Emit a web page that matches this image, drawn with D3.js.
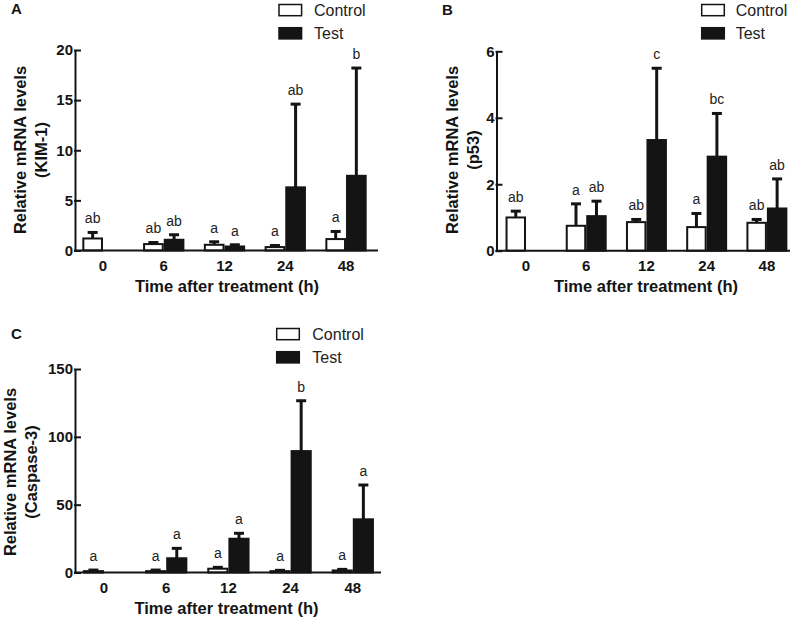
<!DOCTYPE html>
<html><head><meta charset="utf-8">
<script src="https://cdn.jsdelivr.net/npm/d3@7"></script>
<style>
body{margin:0;background:#fff;}
svg{display:block;font-family:"Liberation Sans",Arial,Helvetica,sans-serif;}
</style></head>
<body>
<svg id="chart" width="800" height="619"></svg>
<script>
// ---- data ----
const categories = ["0", "6", "12", "24", "48"];
const seriesNames = ["Control", "Test"];

// Panel A: KIM-1
const kimControl = [1.2, 0.64, 0.57, 0.34, 1.14];
const kimControlErr = [0.6, 0.16, 0.3, 0.16, 0.76];
const kimTest = [null, 1.07, 0.4, 6.3, 7.45];
const kimTestErr = [null, 0.5, 0.17, 8.3, 10.75];
const kimControlLabels = ["ab", "ab", "a", "a", "a"];
const kimTestLabels = ["", "ab", "a", "ab", "b"];
const kimTicks = [0, 5, 10, 15, 20];

// Panel B: p53
const p53Control = [1.0, 0.75, 0.86, 0.71, 0.84];
const p53ControlErr = [0.19, 0.66, 0.08, 0.41, 0.10];
const p53Test = [null, 1.04, 3.33, 2.83, 1.27];
const p53TestErr = [null, 0.45, 2.16, 1.30, 0.89];
const p53ControlLabels = ["ab", "a", "ab", "a", "ab"];
const p53TestLabels = ["", "ab", "c", "bc", "ab"];
const p53Ticks = [0, 2, 4, 6];

// Panel C: Caspase-3
const casControl = [1.0, 1.0, 2.8, 1.0, 1.5];
const casControlErr = [0.8, 0.8, 1.0, 0.6, 0.8];
const casTest = [null, 10.5, 24.9, 89.5, 39.2];
const casTestErr = [null, 7.3, 4.0, 37.1, 25.3];
const casControlLabels = ["a", "a", "a", "a", "a"];
const casTestLabels = ["", "a", "a", "b", "a"];
const casTicks = [0, 50, 100, 150];

const xTitle = "Time after treatment (h)";
const yTitle = "Relative mRNA levels";

// ---- layout ----
const panels = [
  {letter: "A", lx: 11, ly: 14, gene: "(KIM-1)",
   control: kimControl, controlErr: kimControlErr, test: kimTest, testErr: kimTestErr,
   cLabels: kimControlLabels, tLabels: kimTestLabels, ticks: kimTicks, ymax: 20,
   axisX: 75, axisEnd: 378, y0: 250.5, y1: 50, band: [72.6, 376.4],
   yt1x: 20, yt2x: 41, ytY: 150, xtX: 227,
   legX: 279, legY: 4.5, legTextX: 314},
  {letter: "B", lx: 442, ly: 15, gene: "(p53)",
   control: p53Control, controlErr: p53ControlErr, test: p53Test, testErr: p53TestErr,
   cLabels: p53ControlLabels, tLabels: p53TestLabels, ticks: p53Ticks, ymax: 6,
   axisX: 496.5, axisEnd: 790, y0: 250.7, y1: 51.3, band: [495.9, 797],
   yt1x: 452, yt2x: 473, ytY: 150, xtX: 646,
   legX: 701.7, legY: 4.5, legTextX: 735.7},
  {letter: "C", lx: 11, ly: 339, gene: "(Caspase-3)",
   control: casControl, controlErr: casControlErr, test: casTest, testErr: casTestErr,
   cLabels: casControlLabels, tLabels: casTestLabels, ticks: casTicks, ymax: 150,
   axisX: 75, axisEnd: 381, y0: 572.5, y1: 369, band: [72.9, 383.9],
   yt1x: 10, yt2x: 31, ytY: 472, xtX: 226.5,
   legX: 276.7, legY: 328.5, legTextX: 312.3}
];

const svg = d3.select("#chart");
const ink = "#141414";

panels.forEach(p => {
  const g = svg.append("g");
  const x = d3.scaleBand().domain(categories).range(p.band).paddingInner(0.32).paddingOuter(0.16);
  const xs = d3.scaleBand().domain(seriesNames).range([0, x.bandwidth()]);
  const y = d3.scaleLinear().domain([0, p.ymax]).range([p.y0, p.y1]);

  const rows = [];
  categories.forEach((c, i) => {
    rows.push({cat: c, s: "Control", v: p.control[i], e: p.controlErr[i], lab: p.cLabels[i]});
    rows.push({cat: c, s: "Test", v: p.test[i], e: p.testErr[i], lab: p.tLabels[i]});
  });
  const present = rows.filter(d => d.v != null);

  // labels (drawn first so bars overlay like the original)
  g.selectAll("text.sig").data(present.filter(d => d.lab)).join("text")
    .attr("class", "sig")
    .attr("x", d => x(d.cat) + xs(d.s) + xs.bandwidth() / 2)
    .attr("y", d => y(d.v + d.e) - 9)
    .attr("text-anchor", "middle")
    .attr("font-size", 14)
    .attr("fill", "#222")
    .text(d => d.lab);

  // error bars
  const eb = g.selectAll("g.err").data(present).join("g").attr("class", "err");
  eb.append("line")
    .attr("x1", d => x(d.cat) + xs(d.s) + xs.bandwidth() / 2)
    .attr("x2", d => x(d.cat) + xs(d.s) + xs.bandwidth() / 2)
    .attr("y1", d => y(d.v))
    .attr("y2", d => y(d.v + d.e))
    .attr("stroke", ink).attr("stroke-width", 3);
  eb.append("line")
    .attr("x1", d => x(d.cat) + xs(d.s) + xs.bandwidth() / 2 - 5)
    .attr("x2", d => x(d.cat) + xs(d.s) + xs.bandwidth() / 2 + 5)
    .attr("y1", d => y(d.v + d.e))
    .attr("y2", d => y(d.v + d.e))
    .attr("stroke", ink).attr("stroke-width", 3);

  // bars
  g.selectAll("rect.bar").data(present).join("rect")
    .attr("class", "bar")
    .attr("x", d => x(d.cat) + xs(d.s) + 1)
    .attr("width", xs.bandwidth() - 2)
    .attr("y", d => y(d.v))
    .attr("height", d => y(0) - y(d.v))
    .attr("fill", d => d.s === "Control" ? "#fff" : ink)
    .attr("stroke", ink).attr("stroke-width", 2);

  // y axis (inward ticks)
  const ya = g.append("g").attr("transform", `translate(${p.axisX},0)`)
    .call(d3.axisLeft(y).tickValues(p.ticks).tickSize(-6).tickSizeOuter(0).tickPadding(10).tickFormat(d3.format("d")));
  ya.select(".domain").attr("stroke", ink).attr("stroke-width", 2);
  ya.selectAll(".tick line").attr("stroke", ink).attr("stroke-width", 2).attr("x1", -1);
  ya.selectAll(".tick text").attr("font-size", 15).attr("font-weight", "bold").attr("fill", ink)
    .attr("font-family", "Liberation Sans, Arial, sans-serif").attr("x", -2);

  // x axis line
  g.append("line").attr("x1", p.axisX - 1).attr("x2", p.axisEnd)
    .attr("y1", p.y0).attr("y2", p.y0).attr("stroke", ink).attr("stroke-width", 2);
  const xa = g.append("g").attr("transform", `translate(0,${p.y0})`)
    .call(d3.axisBottom(x).tickSize(0).tickPadding(10));
  xa.select(".domain").remove();
  xa.selectAll(".tick text").attr("font-size", 15).attr("font-weight", "bold").attr("fill", ink)
    .attr("font-family", "Liberation Sans, Arial, sans-serif");

  // x title
  g.append("text").attr("x", p.xtX).attr("y", p.y0 + 41).attr("text-anchor", "middle")
    .attr("font-size", 16.5).attr("font-weight", "bold").attr("fill", ink).text(xTitle);

  // y titles
  g.append("text").attr("transform", `translate(${p.yt1x + 6},${p.ytY}) rotate(-90)`)
    .attr("text-anchor", "middle").attr("font-size", 16.5).attr("font-weight", "bold").attr("fill", ink).text(yTitle);
  g.append("text").attr("transform", `translate(${p.yt2x + 6},${p.ytY}) rotate(-90)`)
    .attr("text-anchor", "middle").attr("font-size", 16.5).attr("font-weight", "bold").attr("fill", ink).text(p.gene);

  // panel letter
  g.append("text").attr("x", p.lx).attr("y", p.ly).attr("font-size", 15).attr("font-weight", "bold")
    .attr("fill", ink).text(p.letter);

  // legend
  seriesNames.forEach((s, i) => {
    const yy = p.legY + i * 23.2;
    g.append("rect").attr("x", p.legX).attr("y", yy).attr("width", 22.6).attr("height", 11.2)
      .attr("fill", s === "Control" ? "#fff" : ink).attr("stroke", ink).attr("stroke-width", 1.5);
    g.append("text").attr("x", p.legTextX).attr("y", yy + 11).attr("font-size", 16)
      .attr("fill", "#222").text(s);
  });
});
</script>
</body></html>
